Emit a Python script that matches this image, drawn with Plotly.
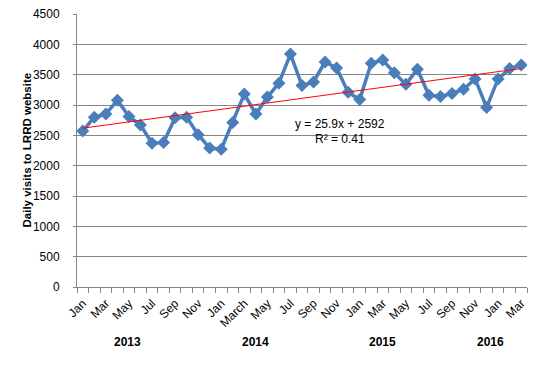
import plotly.graph_objects as go

months = ["Jan","Feb","Mar","Apr","May","Jun","Jul","Aug","Sep","Oct","Nov","Dec",
          "Jan","Feb","March","Apr","May","Jun","Jul","Aug","Sep","Oct","Nov","Dec",
          "Jan","Feb","Mar","Apr","May","Jun","Jul","Aug","Sep","Oct","Nov","Dec",
          "Jan","Feb","Mar"]
visits = [2570, 2800, 2850, 3080, 2810, 2670, 2370, 2380, 2790, 2800, 2510, 2290,
          2270, 2710, 3180, 2850, 3130, 3360, 3840, 3320, 3380, 3710, 3610, 3210,
          3090, 3690, 3740, 3530, 3340, 3590, 3160, 3140, 3190, 3260, 3430, 2960,
          3430, 3600, 3660]
years = ["2013", "2014", "2015", "2016"]
year_label_pos = [4.84, 16.0, 27.0, 36.3]
trend_slope = 25.9
trend_intercept = 2592
y_ticks = [0, 500, 1000, 1500, 2000, 2500, 3000, 3500, 4000, 4500]

idx = list(range(1, len(visits) + 1))
trend = [trend_slope * i + trend_intercept for i in idx]
label_idx = idx[::2]
label_txt = months[::2]

FONT = "Liberation Sans"
GRID = "#868686"

fig = go.Figure()
fig.add_trace(go.Scatter(
    x=idx, y=visits, mode="lines+markers",
    line=dict(color="#4A7EBB", width=3.5),
    marker=dict(symbol="diamond", size=10, color="#4A7EBB"),
    showlegend=False, hoverinfo="skip"))
fig.add_trace(go.Scatter(
    x=idx, y=trend, mode="lines",
    line=dict(color="#FF0000", width=1),
    showlegend=False, hoverinfo="skip"))
# invisible trace for tick marks at category boundaries
fig.add_trace(go.Scatter(x=[0.5], y=[0], xaxis="x2", mode="markers",
                         marker=dict(opacity=0), showlegend=False, hoverinfo="skip"))

fig.update_layout(
    width=547, height=368,
    margin=dict(l=77, r=20, t=14, b=81, autoexpand=False),
    paper_bgcolor="white", plot_bgcolor="white",
    font=dict(family=FONT, size=11, color="#000000"),
    xaxis=dict(range=[0.5, len(visits) + 0.5], tickmode="array",
               tickvals=label_idx, ticktext=label_txt, tickangle=-45,
               ticks="", showgrid=False, zeroline=False, showline=False,
               automargin=False, ticklabelstandoff=6,
               tickfont=dict(family=FONT, size=12)),
    xaxis2=dict(range=[0.5, len(visits) + 0.5], overlaying="x", side="bottom",
                tickmode="array", tickvals=[i + 0.5 for i in range(0, len(visits) + 1)],
                showticklabels=False, ticks="outside", ticklen=5, tickcolor=GRID,
                showgrid=False, zeroline=False, showline=True, linecolor=GRID,
                anchor="y", automargin=False),
    yaxis=dict(range=[0, 4500], tickmode="array", tickvals=y_ticks,
               showgrid=True, gridcolor=GRID, gridwidth=1,
               showline=True, linecolor=GRID, ticks="outside", ticklen=3,
               tickcolor=GRID, zeroline=False, automargin=False,
               ticklabelstandoff=11, ticklabeloverflow="allow",
               tickfont=dict(family=FONT, size=12)),
)

fig.add_annotation(x=-0.1133, y=0.5, xref="paper", yref="paper",
                   text="<b>Daily visits to LRRD website</b>", textangle=-90,
                   showarrow=False, font=dict(family=FONT, size=11.5),
                   xanchor="center", yanchor="middle")

for yr, pos in zip(years, year_label_pos):
    fig.add_annotation(x=pos, y=-0.2, xref="x", yref="paper",
                       text="<b>" + yr + "</b>", showarrow=False,
                       font=dict(family=FONT, size=12), yanchor="middle")

fig.add_annotation(x=0.584, y=0.598, xref="paper", yref="paper",
                   text="y = 25.9x + 2592", showarrow=False,
                   font=dict(family=FONT, size=12), yanchor="middle")
fig.add_annotation(x=0.584, y=0.543, xref="paper", yref="paper",
                   text="R² = 0.41", showarrow=False,
                   font=dict(family=FONT, size=12), yanchor="middle")

fig.write_html("out.html", config={"displayModeBar": False},
               post_script="document.body.style.margin='0';")
